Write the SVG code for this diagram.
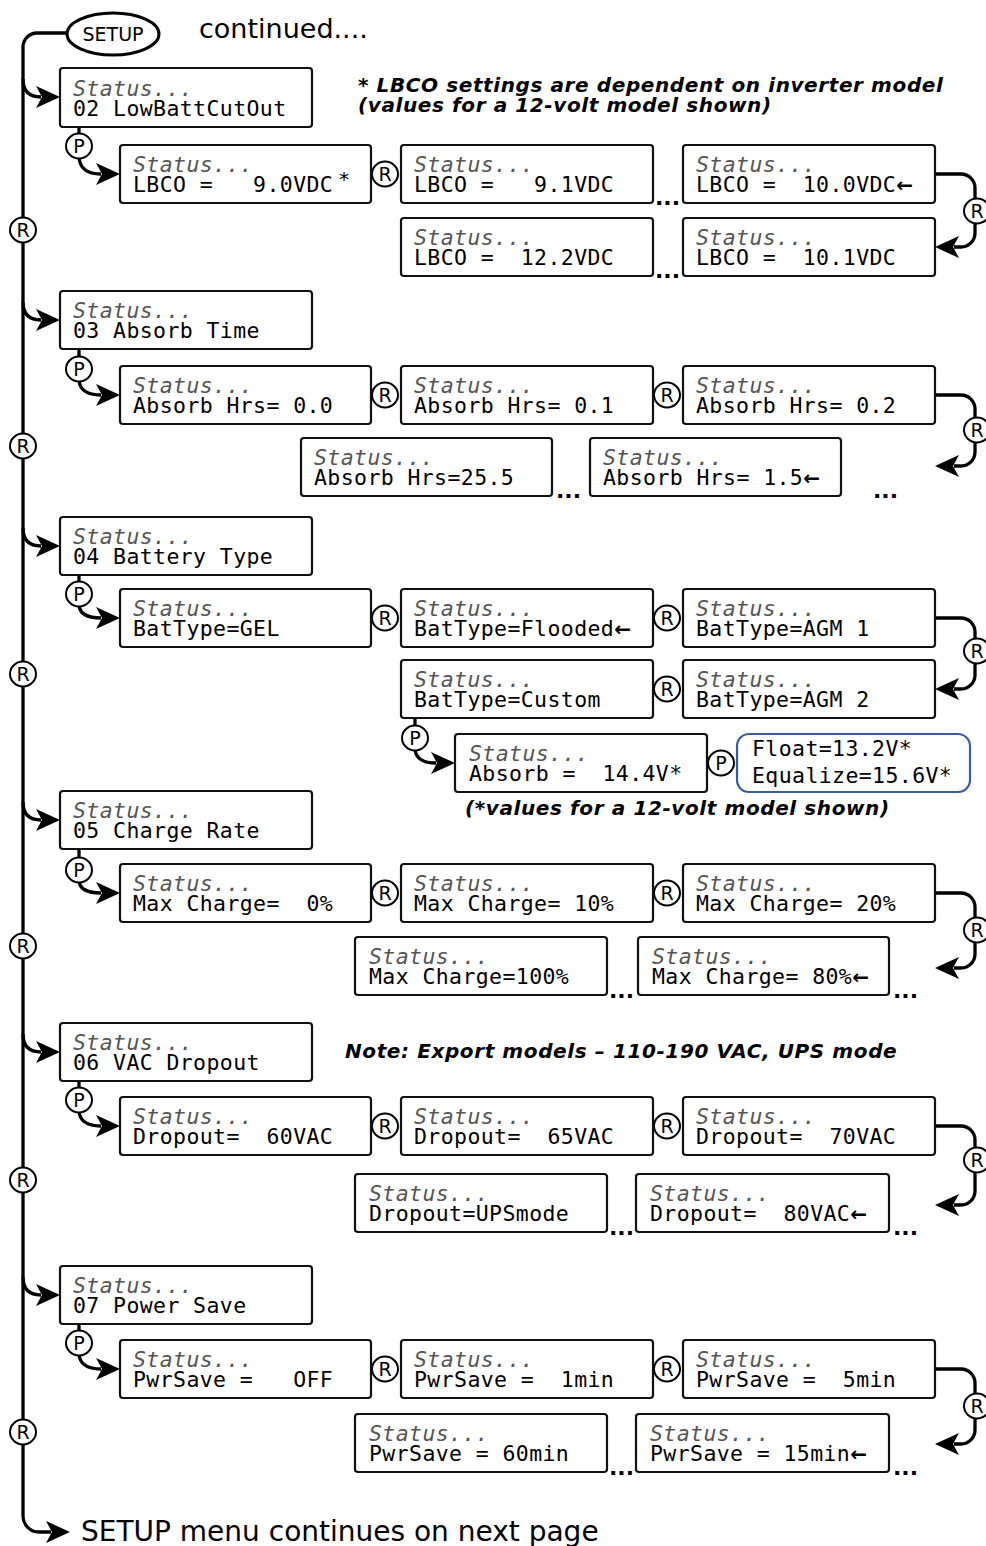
<svg xmlns="http://www.w3.org/2000/svg" width="986" height="1546" viewBox="0 0 986 1546">
<style>
.box{fill:#fff;stroke:#111;stroke-width:2.2}
.bbox{fill:#fff;stroke:#3a5aa8;stroke-width:2.2}
.st{font-family:"DejaVu Sans Mono",monospace;font-size:21.5px;font-style:italic;fill:#555;letter-spacing:0.4px;white-space:pre}
.tx{font-family:"DejaVu Sans Mono",monospace;font-size:21.5px;fill:#000;letter-spacing:0.4px;white-space:pre}
.c{fill:#fff;stroke:#000;stroke-width:2}
.cl{font-family:"DejaVu Sans",sans-serif;font-size:19px;text-anchor:middle;fill:#000}
.ln{fill:none;stroke:#000;stroke-width:3.3}
.dots{font-family:"DejaVu Sans",sans-serif;font-weight:bold;font-size:22px;fill:#000}
.note{font-family:"DejaVu Sans",sans-serif;font-weight:bold;font-style:italic;font-size:20px;letter-spacing:0.6px;fill:#000}
.big{font-family:"DejaVu Sans",sans-serif;font-size:28px;fill:#000}
.ar{font-family:"DejaVu Sans",sans-serif;font-weight:bold;font-size:20px;letter-spacing:0}
</style>
<defs>
<marker id="ah" markerUnits="userSpaceOnUse" markerWidth="26" markerHeight="24" viewBox="0 0 26 24" refX="5" refY="12" orient="auto"><path d="M0,1 L24,12 L0,23 L6,12 Z" fill="#000"/></marker>
</defs>

<g id="connectors">
<path class="ln" d="M67,33 H37 A14,14 0 0 0 23,47 V1516 A16,16 0 0 0 39,1532 H51" marker-end="url(#ah)"/>
<path class="ln" d="M23,79 Q23,97 41,97" marker-end="url(#ah)"/>
<path class="ln" d="M23,302 Q23,320 41,320" marker-end="url(#ah)"/>
<path class="ln" d="M23,528 Q23,546 41,546" marker-end="url(#ah)"/>
<path class="ln" d="M23,802 Q23,820 41,820" marker-end="url(#ah)"/>
<path class="ln" d="M23,1034 Q23,1052 41,1052" marker-end="url(#ah)"/>
<path class="ln" d="M23,1277 Q23,1295 41,1295" marker-end="url(#ah)"/>
<path class="ln" d="M79,127 V135 M79,349 V358 M79,575 V583 M79,849 V859 M79,1081 V1089 M79,1324 V1332 M415,718 V727"/>
<path class="ln" d="M79,157 Q80,174 101,174" marker-end="url(#ah)"/>
<path class="ln" d="M79,380 Q80,395 101,395" marker-end="url(#ah)"/>
<path class="ln" d="M79,605 Q80,618 101,618" marker-end="url(#ah)"/>
<path class="ln" d="M79,881 Q80,893 101,893" marker-end="url(#ah)"/>
<path class="ln" d="M79,1111 Q80,1126 101,1126" marker-end="url(#ah)"/>
<path class="ln" d="M79,1354 Q80,1369 101,1369" marker-end="url(#ah)"/>
<path class="ln" d="M415,749 Q416,763 436,763" marker-end="url(#ah)"/>
<path class="ln" d="M935,174 H961 A14,14 0 0 1 975,188 V233 A14,14 0 0 1 961,247 H954" marker-end="url(#ah)"/>
<path class="ln" d="M935,395 H961 A14,14 0 0 1 975,409 V452 A14,14 0 0 1 961,466 H954" marker-end="url(#ah)"/>
<path class="ln" d="M935,618 H961 A14,14 0 0 1 975,632 V675 A14,14 0 0 1 961,689 H954" marker-end="url(#ah)"/>
<path class="ln" d="M935,893 H961 A14,14 0 0 1 975,907 V954 A14,14 0 0 1 961,968 H954" marker-end="url(#ah)"/>
<path class="ln" d="M935,1126 H961 A14,14 0 0 1 975,1140 V1191 A14,14 0 0 1 961,1205 H954" marker-end="url(#ah)"/>
<path class="ln" d="M935,1369 H961 A14,14 0 0 1 975,1383 V1430 A14,14 0 0 1 961,1444 H954" marker-end="url(#ah)"/>
</g>

<g id="circles">
<g id="rMain1"><ellipse class="c" cx="23" cy="230" rx="13" ry="12.5"/><text class="cl" x="23" y="237">R</text></g>
<g id="rMain2"><ellipse class="c" cx="23" cy="446" rx="13" ry="12.5"/><text class="cl" x="23" y="453">R</text></g>
<g id="rMain3"><ellipse class="c" cx="23" cy="674" rx="13" ry="12.5"/><text class="cl" x="23" y="681">R</text></g>
<g id="rMain4"><ellipse class="c" cx="23" cy="946" rx="13" ry="12.5"/><text class="cl" x="23" y="953">R</text></g>
<g id="rMain5"><ellipse class="c" cx="23" cy="1180" rx="13" ry="12.5"/><text class="cl" x="23" y="1187">R</text></g>
<g id="rMain6"><ellipse class="c" cx="23" cy="1432" rx="13" ry="12.5"/><text class="cl" x="23" y="1439">R</text></g>
<g id="p02"><ellipse class="c" cx="79" cy="146" rx="13" ry="12.5"/><text class="cl" x="79" y="153">P</text></g>
<g id="p03"><ellipse class="c" cx="79" cy="369" rx="13" ry="12.5"/><text class="cl" x="79" y="376">P</text></g>
<g id="p04"><ellipse class="c" cx="79" cy="594" rx="13" ry="12.5"/><text class="cl" x="79" y="601">P</text></g>
<g id="p05"><ellipse class="c" cx="79" cy="870" rx="13" ry="12.5"/><text class="cl" x="79" y="877">P</text></g>
<g id="p06"><ellipse class="c" cx="79" cy="1100" rx="13" ry="12.5"/><text class="cl" x="79" y="1107">P</text></g>
<g id="p07"><ellipse class="c" cx="79" cy="1343" rx="13" ry="12.5"/><text class="cl" x="79" y="1350">P</text></g>
<g id="pCustom"><ellipse class="c" cx="415" cy="738" rx="13" ry="12.5"/><text class="cl" x="415" y="745">P</text></g>
<g id="pAbsorb"><ellipse class="c" cx="721" cy="763" rx="13" ry="12.5"/><text class="cl" x="721" y="770">P</text></g>
<g id="r02a"><ellipse class="c" cx="385" cy="174" rx="13" ry="12.5"/><text class="cl" x="385" y="181">R</text></g>
<g id="r02l"><ellipse class="c" cx="977" cy="211" rx="13" ry="12.5"/><text class="cl" x="977" y="218">R</text></g>
<g id="r03a"><ellipse class="c" cx="385" cy="395" rx="13" ry="12.5"/><text class="cl" x="385" y="402">R</text></g>
<g id="r03b"><ellipse class="c" cx="667" cy="395" rx="13" ry="12.5"/><text class="cl" x="667" y="402">R</text></g>
<g id="r03l"><ellipse class="c" cx="977" cy="430" rx="13" ry="12.5"/><text class="cl" x="977" y="437">R</text></g>
<g id="r04a"><ellipse class="c" cx="385" cy="618" rx="13" ry="12.5"/><text class="cl" x="385" y="625">R</text></g>
<g id="r04b"><ellipse class="c" cx="667" cy="618" rx="13" ry="12.5"/><text class="cl" x="667" y="625">R</text></g>
<g id="r04l"><ellipse class="c" cx="977" cy="651" rx="13" ry="12.5"/><text class="cl" x="977" y="658">R</text></g>
<g id="r04c"><ellipse class="c" cx="667" cy="689" rx="13" ry="12.5"/><text class="cl" x="667" y="696">R</text></g>
<g id="r05a"><ellipse class="c" cx="385" cy="893" rx="13" ry="12.5"/><text class="cl" x="385" y="900">R</text></g>
<g id="r05b"><ellipse class="c" cx="667" cy="893" rx="13" ry="12.5"/><text class="cl" x="667" y="900">R</text></g>
<g id="r05l"><ellipse class="c" cx="977" cy="930" rx="13" ry="12.5"/><text class="cl" x="977" y="937">R</text></g>
<g id="r06a"><ellipse class="c" cx="385" cy="1126" rx="13" ry="12.5"/><text class="cl" x="385" y="1133">R</text></g>
<g id="r06b"><ellipse class="c" cx="667" cy="1126" rx="13" ry="12.5"/><text class="cl" x="667" y="1133">R</text></g>
<g id="r06l"><ellipse class="c" cx="977" cy="1160" rx="13" ry="12.5"/><text class="cl" x="977" y="1167">R</text></g>
<g id="r07a"><ellipse class="c" cx="385" cy="1369" rx="13" ry="12.5"/><text class="cl" x="385" y="1376">R</text></g>
<g id="r07b"><ellipse class="c" cx="667" cy="1369" rx="13" ry="12.5"/><text class="cl" x="667" y="1376">R</text></g>
<g id="r07l"><ellipse class="c" cx="977" cy="1406" rx="13" ry="12.5"/><text class="cl" x="977" y="1413">R</text></g>
</g>

<g id="setup"><ellipse cx="113" cy="34" rx="46" ry="21" fill="#fff" stroke="#000" stroke-width="3"/><text class="cl" x="113" y="41">SETUP</text></g>
<text class="big" style="font-size:27px" x="199" y="38">continued....</text>

<g id="note1"><text class="note" x="358" y="92">* LBCO settings are dependent on inverter model</text><text class="note" x="358" y="112">(values for a 12-volt model shown)</text></g>

<g id="h02"><rect class="box" x="60" y="68" width="252" height="59" rx="3"/><text class="st" x="73" y="96">Status...</text><text class="tx" x="73" y="116">02 LowBattCutOut</text></g>
<g id="n02a"><rect class="box" x="120" y="145" width="251" height="58" rx="3"/><text class="st" x="133" y="172">Status...</text><text class="tx" x="133" y="192">LBCO =   9.0VDC</text><text class="cl" style="font-size:20px;text-anchor:start" x="339" y="186">*</text></g>
<g id="n02b"><rect class="box" x="401" y="145" width="252" height="58" rx="3"/><text class="st" x="414" y="172">Status...</text><text class="tx" x="414" y="192">LBCO =   9.1VDC</text></g>
<g id="n02c"><rect class="box" x="683" y="145" width="252" height="58" rx="3"/><text class="st" x="696" y="172">Status...</text><text class="tx" x="696" y="192">LBCO =  10.0VDC<tspan class="ar">←</tspan></text></g>
<g id="n02d"><rect class="box" x="401" y="218" width="252" height="58" rx="3"/><text class="st" x="414" y="245">Status...</text><text class="tx" x="414" y="265">LBCO =  12.2VDC</text></g>
<g id="n02e"><rect class="box" x="683" y="218" width="252" height="58" rx="3"/><text class="st" x="696" y="245">Status...</text><text class="tx" x="696" y="265">LBCO =  10.1VDC</text></g>
<text class="dots" x="655" y="205">...</text>
<text class="dots" x="655" y="278">...</text>

<g id="h03"><rect class="box" x="60" y="291" width="252" height="58" rx="3"/><text class="st" x="73" y="318">Status...</text><text class="tx" x="73" y="338">03 Absorb Time</text></g>
<g id="n03a"><rect class="box" x="120" y="366" width="251" height="58" rx="3"/><text class="st" x="133" y="393">Status...</text><text class="tx" x="133" y="413">Absorb Hrs= 0.0</text></g>
<g id="n03b"><rect class="box" x="401" y="366" width="252" height="58" rx="3"/><text class="st" x="414" y="393">Status...</text><text class="tx" x="414" y="413">Absorb Hrs= 0.1</text></g>
<g id="n03c"><rect class="box" x="683" y="366" width="252" height="58" rx="3"/><text class="st" x="696" y="393">Status...</text><text class="tx" x="696" y="413">Absorb Hrs= 0.2</text></g>
<g id="n03d"><rect class="box" x="301" y="438" width="251" height="58" rx="3"/><text class="st" x="314" y="465">Status...</text><text class="tx" x="314" y="485">Absorb Hrs=25.5</text></g>
<g id="n03e"><rect class="box" x="590" y="438" width="251" height="58" rx="3"/><text class="st" x="603" y="465">Status...</text><text class="tx" x="603" y="485">Absorb Hrs= 1.5<tspan class="ar">←</tspan></text></g>
<text class="dots" x="556" y="498">...</text>
<text class="dots" x="873" y="498">...</text>

<g id="h04"><rect class="box" x="60" y="517" width="252" height="58" rx="3"/><text class="st" x="73" y="544">Status...</text><text class="tx" x="73" y="564">04 Battery Type</text></g>
<g id="n04a"><rect class="box" x="120" y="589" width="251" height="58" rx="3"/><text class="st" x="133" y="616">Status...</text><text class="tx" x="133" y="636">BatType=GEL</text></g>
<g id="n04b"><rect class="box" x="401" y="589" width="252" height="58" rx="3"/><text class="st" x="414" y="616">Status...</text><text class="tx" x="414" y="636">BatType=Flooded<tspan class="ar">←</tspan></text></g>
<g id="n04c"><rect class="box" x="683" y="589" width="252" height="58" rx="3"/><text class="st" x="696" y="616">Status...</text><text class="tx" x="696" y="636">BatType=AGM 1</text></g>
<g id="n04d"><rect class="box" x="401" y="660" width="252" height="58" rx="3"/><text class="st" x="414" y="687">Status...</text><text class="tx" x="414" y="707">BatType=Custom</text></g>
<g id="n04e"><rect class="box" x="683" y="660" width="252" height="58" rx="3"/><text class="st" x="696" y="687">Status...</text><text class="tx" x="696" y="707">BatType=AGM 2</text></g>
<g id="n04f"><rect class="box" x="455" y="734" width="252" height="58" rx="3"/><text class="st" x="469" y="761">Status...</text><text class="tx" x="469" y="781">Absorb =  14.4V*</text></g>
<g id="n04g"><rect class="bbox" x="737" y="734" width="233" height="58" rx="12"/><text class="tx" x="752" y="756">Float=13.2V*</text><text class="tx" x="752" y="783">Equalize=15.6V*</text></g>
<text class="note" x="465" y="815">(*values for a 12-volt model shown)</text>

<g id="h05"><rect class="box" x="60" y="791" width="252" height="58" rx="3"/><text class="st" x="73" y="818">Status...</text><text class="tx" x="73" y="838">05 Charge Rate</text></g>
<g id="n05a"><rect class="box" x="120" y="864" width="251" height="58" rx="3"/><text class="st" x="133" y="891">Status...</text><text class="tx" x="133" y="911">Max Charge=  0%</text></g>
<g id="n05b"><rect class="box" x="401" y="864" width="252" height="58" rx="3"/><text class="st" x="414" y="891">Status...</text><text class="tx" x="414" y="911">Max Charge= 10%</text></g>
<g id="n05c"><rect class="box" x="683" y="864" width="252" height="58" rx="3"/><text class="st" x="696" y="891">Status...</text><text class="tx" x="696" y="911">Max Charge= 20%</text></g>
<g id="n05d"><rect class="box" x="355" y="937" width="252" height="58" rx="3"/><text class="st" x="369" y="964">Status...</text><text class="tx" x="369" y="984">Max Charge=100%</text></g>
<g id="n05e"><rect class="box" x="638" y="937" width="251" height="58" rx="3"/><text class="st" x="652" y="964">Status...</text><text class="tx" x="652" y="984">Max Charge= 80%<tspan class="ar">←</tspan></text></g>
<text class="dots" x="609" y="998">...</text>
<text class="dots" x="893" y="998">...</text>

<g id="h06"><rect class="box" x="60" y="1023" width="252" height="58" rx="3"/><text class="st" x="73" y="1050">Status...</text><text class="tx" x="73" y="1070">06 VAC Dropout</text></g>
<text class="note" x="345" y="1058">Note: Export models – 110-190 VAC, UPS mode</text>
<g id="n06a"><rect class="box" x="120" y="1097" width="251" height="58" rx="3"/><text class="st" x="133" y="1124">Status...</text><text class="tx" x="133" y="1144">Dropout=  60VAC</text></g>
<g id="n06b"><rect class="box" x="401" y="1097" width="252" height="58" rx="3"/><text class="st" x="414" y="1124">Status...</text><text class="tx" x="414" y="1144">Dropout=  65VAC</text></g>
<g id="n06c"><rect class="box" x="683" y="1097" width="252" height="58" rx="3"/><text class="st" x="696" y="1124">Status...</text><text class="tx" x="696" y="1144">Dropout=  70VAC</text></g>
<g id="n06d"><rect class="box" x="355" y="1174" width="252" height="58" rx="3"/><text class="st" x="369" y="1201">Status...</text><text class="tx" x="369" y="1221">Dropout=UPSmode</text></g>
<g id="n06e"><rect class="box" x="636" y="1174" width="253" height="58" rx="3"/><text class="st" x="650" y="1201">Status...</text><text class="tx" x="650" y="1221">Dropout=  80VAC<tspan class="ar">←</tspan></text></g>
<text class="dots" x="609" y="1235">...</text>
<text class="dots" x="893" y="1235">...</text>

<g id="h07"><rect class="box" x="60" y="1266" width="252" height="58" rx="3"/><text class="st" x="73" y="1293">Status...</text><text class="tx" x="73" y="1313">07 Power Save</text></g>
<g id="n07a"><rect class="box" x="120" y="1340" width="251" height="58" rx="3"/><text class="st" x="133" y="1367">Status...</text><text class="tx" x="133" y="1387">PwrSave =   OFF</text></g>
<g id="n07b"><rect class="box" x="401" y="1340" width="252" height="58" rx="3"/><text class="st" x="414" y="1367">Status...</text><text class="tx" x="414" y="1387">PwrSave =  1min</text></g>
<g id="n07c"><rect class="box" x="683" y="1340" width="252" height="58" rx="3"/><text class="st" x="696" y="1367">Status...</text><text class="tx" x="696" y="1387">PwrSave =  5min</text></g>
<g id="n07d"><rect class="box" x="355" y="1414" width="252" height="58" rx="3"/><text class="st" x="369" y="1441">Status...</text><text class="tx" x="369" y="1461">PwrSave = 60min</text></g>
<g id="n07e"><rect class="box" x="636" y="1414" width="253" height="58" rx="3"/><text class="st" x="650" y="1441">Status...</text><text class="tx" x="650" y="1461">PwrSave = 15min<tspan class="ar">←</tspan></text></g>
<text class="dots" x="609" y="1475">...</text>
<text class="dots" x="893" y="1475">...</text>

<text class="big" x="81" y="1541">SETUP menu continues on next page</text>
</svg>
